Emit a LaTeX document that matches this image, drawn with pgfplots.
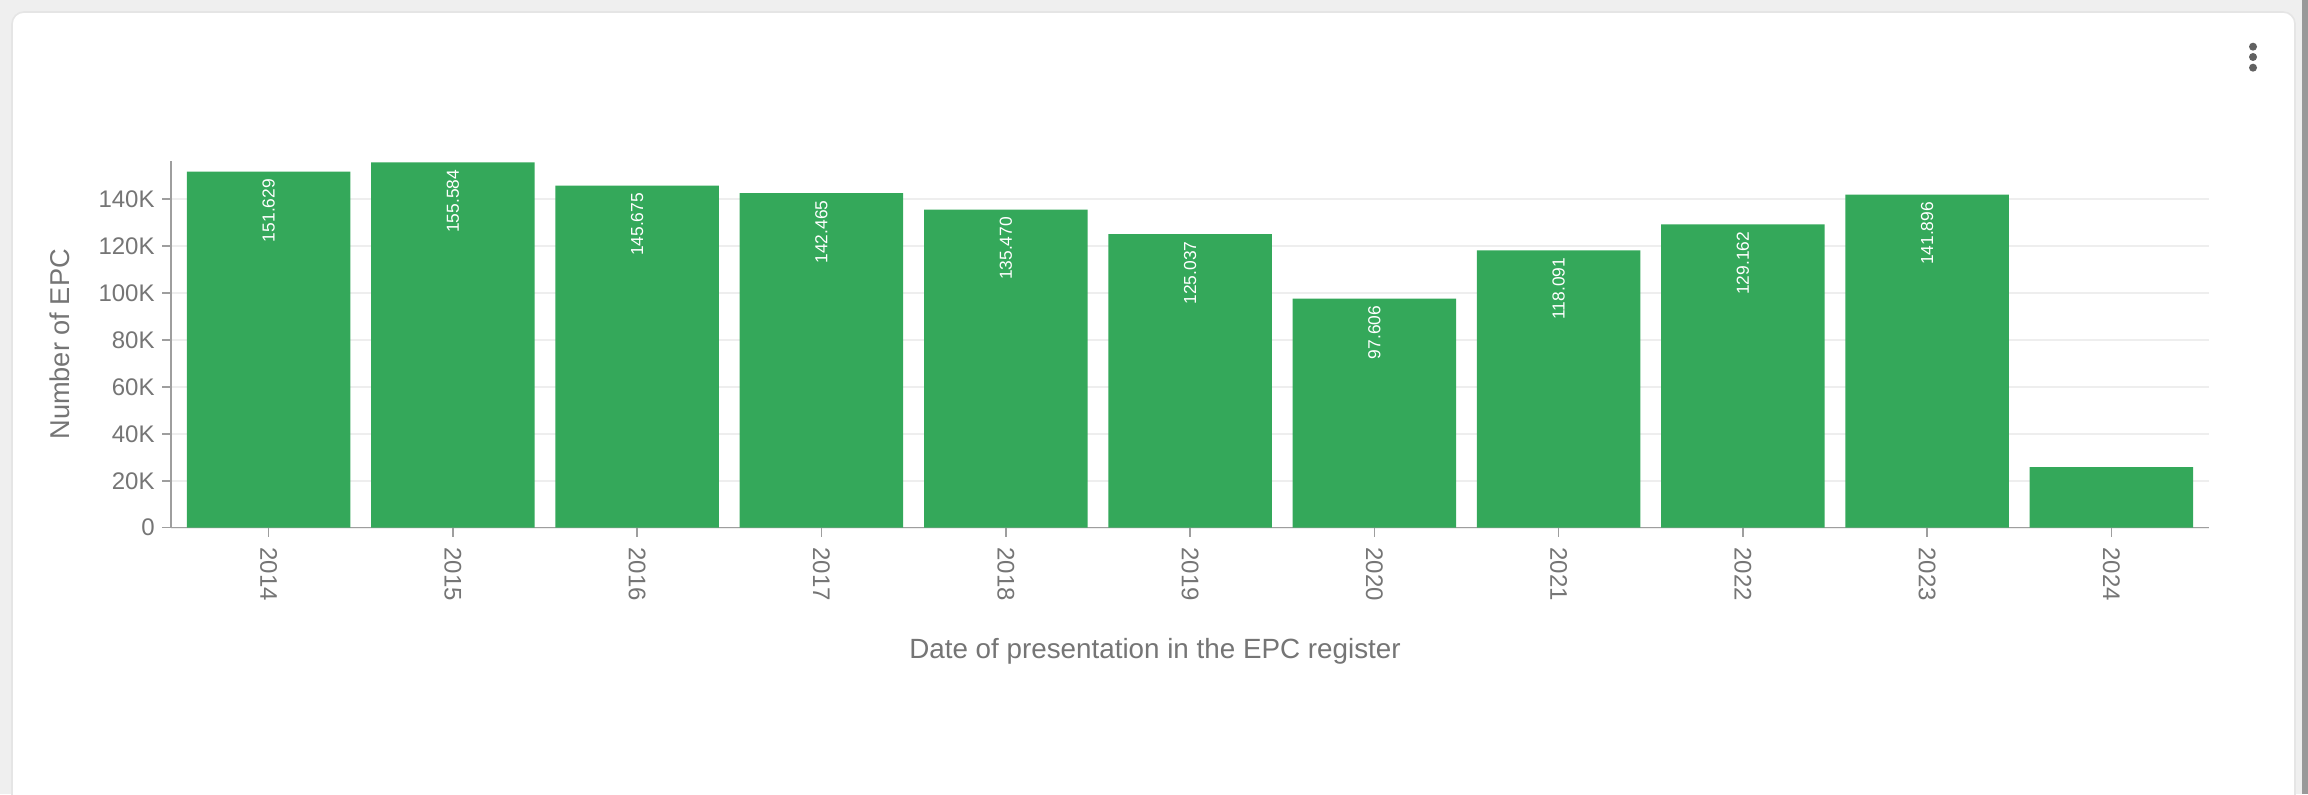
\documentclass[border=0pt]{standalone}
\usepackage{pgfplots}
\pgfplotsset{compat=1.18}
\usepackage{fontspec}
\setmainfont{Liberation Sans}
\definecolor{bargreen}{HTML}{34A85A}
\definecolor{txtgray}{HTML}{757575}
\definecolor{axgray}{HTML}{9E9E9E}
\definecolor{gridgray}{HTML}{EEEEEE}
\definecolor{bggray}{HTML}{EFEFEF}
\definecolor{dotgray}{HTML}{616161}
\begin{document}
\begin{tikzpicture}
\begin{scope}[x=0.5bp,y=0.5bp]
\useasboundingbox (0,0) rectangle (2308,794);
\fill[bggray] (0,0) rectangle (2308,794);
\fill[white, rounded corners=6] (12,-20) rectangle (2295,782);
\draw[black!10, line width=0.8bp, rounded corners=6] (12,-20) rectangle (2295,782);
\fill[black!40] (2302,0) rectangle (2308,794);
\fill[dotgray] (2253,747.3) circle (4) (2253,737) circle (4) (2253,726.3) circle (4);
\end{scope}
\begin{axis}[
  at={(85.5bp,133.15bp)}, anchor=south west,
  scale only axis, width=1019bp, height=183.35bp,
  ybar, bar width=81.75bp, bar shift=0pt,
  xmin=-0.53, xmax=10.53, ymin=0, ymax=156200,
  scaled y ticks=false,
  axis x line=bottom, axis y line=left,
  axis line style={axgray, line width=0.8bp, -},
  tick align=outside, major tick length=4.5bp,
  tick style={axgray, line width=0.8bp},
  xtick={0,1,2,3,4,5,6,7,8,9,10},
  xticklabels={2014,2015,2016,2017,2018,2019,2020,2021,2022,2023,2024},
  ytick={0,20000,40000,60000,80000,100000,120000,140000},
  yticklabels={0,20K,40K,60K,80K,100K,120K,140K},
  ymajorgrids, major grid style={gridgray, line width=1bp},
  ticklabel style={font=\fontsize{12bp}{14bp}\selectfont, text=txtgray},
  xticklabel style={rotate=-90, anchor=west, inner sep=0pt},
  yticklabel style={anchor=east, inner sep=0pt},
  xticklabel shift=5.15bp, yticklabel shift=3.5bp,
  xlabel={Date of presentation in the EPC register},
  ylabel={Number of EPC},
  xlabel style={at={(axis description cs:0.4828,0)}, anchor=north, yshift=-55bp, inner sep=0pt, font=\fontsize{13.9bp}{16bp}\selectfont, text=txtgray},
  ylabel style={at={(axis description cs:-0.0545,0.5)}, anchor=center, inner sep=0pt, font=\fontsize{13.6bp}{16bp}\selectfont, text=txtgray},
  every node near coord/.append style={font=\fontsize{8.7bp}{10bp}\selectfont, text=white, inner sep=0pt, yshift=-3.5bp, rotate=90, anchor=east},
]
\addplot[fill=bargreen, draw=none] coordinates {
  (0,151629) (1,155584) (2,145675) (3,142465) (4,135470) (5,125037)
  (6,97606) (7,118091) (8,129162) (9,141896) (10,25850)
};
\addplot[draw=none, fill=none, point meta=explicit symbolic, nodes near coords] coordinates {
  (0,151629) [151.629]
  (1,155584) [155.584]
  (2,145675) [145.675]
  (3,142465) [142.465]
  (4,135470) [135.470]
  (5,125037) [125.037]
  (6,97606) [97.606]
  (7,118091) [118.091]
  (8,129162) [129.162]
  (9,141896) [141.896]
};
\end{axis}
\end{tikzpicture}
\end{document}
